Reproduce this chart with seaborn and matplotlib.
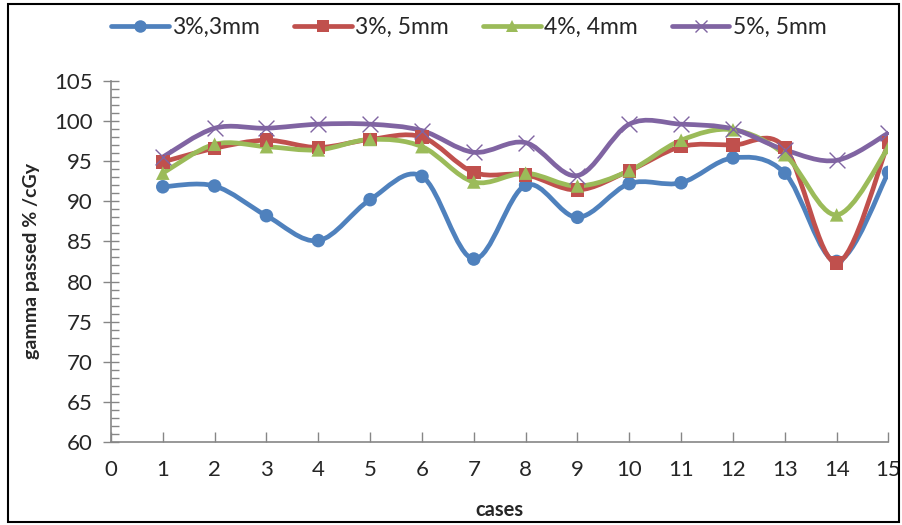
import numpy as np
import pandas as pd
import matplotlib
matplotlib.use("Agg")
import matplotlib.pyplot as plt
import seaborn as sns
from matplotlib.path import Path
from matplotlib.patches import PathPatch, Rectangle
from matplotlib.lines import Line2D

# %% Data.
cases = list(range(1, 16))
labels = ['3%,3mm', '3%, 5mm', '4%, 4mm', '5%, 5mm']
g_3_3 = [91.8, 91.9, 88.2, 85.1, 90.2, 93.1, 82.8, 92.0, 88.0, 92.2, 92.3, 95.4, 93.5, 82.5, 93.6]
g_3_5 = [94.9, 96.6, 97.6, 96.7, 97.7, 98.0, 93.6, 93.3, 91.4, 93.8, 96.8, 97.0, 96.7, 82.3, 97.3]
g_4_4 = [93.5, 97.1, 96.8, 96.4, 97.7, 96.8, 92.4, 93.5, 91.9, 93.8, 97.6, 98.9, 95.8, 88.3, 96.7]
g_5_5 = [95.5, 99.1, 99.1, 99.6, 99.6, 98.8, 96.1, 97.3, 93.2, 99.6, 99.6, 99.0, 96.4, 95.1, 98.5]
series = [g_3_3, g_3_5, g_4_4, g_5_5]

colors = ['#4F81BD', '#C0504D', '#9BBB59', '#8064A2']
markers = ['o', 's', '^', 'x']

df = pd.DataFrame({
    'case': cases * 4,
    'value': g_3_3 + g_3_5 + g_4_4 + g_5_5,
    'series': [lab for lab in labels for _ in cases],
})

sns.set_style('white')
plt.rcParams['font.family'] = ['Lato', 'DejaVu Sans']

fig = plt.figure(figsize=(9.02, 5.25), dpi=100)
ax = fig.add_axes([0.123, 0.158, 0.862, 0.688])


def smooth_path(xs, ys):
    # Excel-style smoothed line: Catmull-Rom as cubic Bezier segments
    pts = np.column_stack([xs, ys]).astype(float)
    n = len(pts)
    verts = [pts[0]]
    codes = [Path.MOVETO]
    for i in range(n - 1):
        p0 = pts[i - 1] if i > 0 else pts[i]
        p1 = pts[i]
        p2 = pts[i + 1]
        p3 = pts[i + 2] if i + 2 < n else pts[i + 1]
        c1 = p1 + (p2 - p0) / 6.0
        c2 = p2 - (p3 - p1) / 6.0
        verts += [c1, c2, p2]
        codes += [Path.CURVE4] * 3
    return Path(verts, codes)


for vals, col in zip(series, colors):
    ax.add_patch(PathPatch(smooth_path(cases, vals), fill=False, edgecolor=col,
                           linewidth=3.4, capstyle='round', joinstyle='round', zorder=2))

sns.scatterplot(data=df[df['series'] != labels[3]], x='case', y='value', hue='series',
                style='series', markers=dict(zip(labels[:3], markers[:3])),
                palette=dict(zip(labels[:3], colors[:3])), s=95, edgecolor='none',
                legend=False, ax=ax, zorder=3)
sns.scatterplot(data=df[df['series'] == labels[3]], x='case', y='value', marker='x',
                color=colors[3], s=130, linewidth=1.0, legend=False, ax=ax, zorder=3)

ax.set_xlim(0, 15)
ax.set_ylim(60, 105)
ax.set_xticks(range(0, 16))
ax.set_yticks(range(60, 106, 5))
ax.set_yticks(range(60, 106, 1), minor=True)
ax.tick_params(axis='x', direction='in', length=7, width=1, color='#868686',
               labelsize=16, pad=13, bottom=True, labelcolor='#262626')
ax.tick_params(axis='y', which='major', direction='inout', length=12, width=1,
               color='#868686', labelsize=16, pad=7, left=True, labelcolor='#262626')
ax.tick_params(axis='y', which='minor', direction='in', length=6, width=1,
               color='#868686', left=True)
for s in ['top', 'right']:
    ax.spines[s].set_visible(False)
for s in ['left', 'bottom']:
    ax.spines[s].set_color('#868686')
    ax.spines[s].set_linewidth(1.2)

ax.set_xlabel('cases', fontsize=14.5, fontweight='bold', labelpad=14)
ax.set_ylabel('gamma passed % /cGy', fontsize=14, fontweight='bold', labelpad=10)

handles = [Line2D([], [], color=c, marker=m, linewidth=3.4, markersize=9,
                  markeredgewidth=1.0 if m == 'x' else 0)
           for c, m in zip(colors, markers)]
fig.legend(handles, labels, loc='center', bbox_to_anchor=(0.52, 0.947), ncol=4,
           frameon=False, fontsize=16.5, handlelength=2.5, handletextpad=0.15,
           columnspacing=1.5, labelcolor='#262626')

fig.patches.append(Rectangle((0.009, 0.006), 0.988, 0.986, transform=fig.transFigure,
                             fill=False, edgecolor='black', linewidth=1.5))

fig.savefig('out.png', dpi=100)
